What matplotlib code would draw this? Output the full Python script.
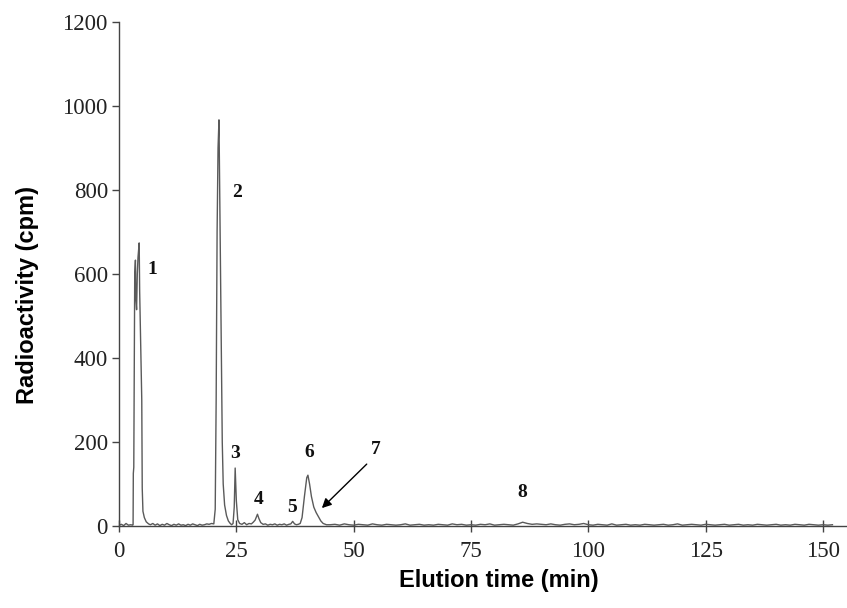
import numpy as np
import matplotlib
matplotlib.use("Agg")
import matplotlib.pyplot as plt

# ---------------------------------------------------------------------------
# Data (read off the radio-chromatogram)
# ---------------------------------------------------------------------------
# start of run + peak 1
t_start = [0.0, 0.5, 1.0, 1.5, 2.0, 2.5, 2.9,
           3.0, 3.05, 3.15, 3.35, 3.5, 3.6, 3.75, 3.9, 4.05, 4.3,
           4.4, 4.6, 4.85, 4.95, 5.1, 5.4, 5.8, 6.3]
v_start = [2, 4, 1, 6, 2, 3, 2,
           3, 125, 140, 600, 633, 540, 515, 600, 640, 674,
           560, 450, 300, 90, 35, 20, 10, 5]

# baseline before peak 2
t_base1 = [6.7, 7.2, 7.7, 8.2, 8.7, 9.2, 9.7, 10.2, 10.7, 11.2, 11.7, 12.2,
           12.7, 13.2, 13.7, 14.2, 14.7, 15.2, 15.7, 16.2, 16.7, 17.2, 17.7,
           18.2, 18.7, 19.2, 19.7]
v_base1 = [3, 6, 2, 5, 1, 4, 2, 6, 3, 1, 4, 2,
           5, 2, 3, 1, 4, 2, 5, 3, 1, 4, 2,
           3, 5, 4, 6]

# peaks 2 and 3
t_mid = [20.2, 20.5, 20.7, 20.9, 21.1, 21.3, 21.45, 21.6, 21.8, 22.0, 22.2,
         22.5, 22.9, 23.3, 23.7, 24.0, 24.3, 24.55, 24.75, 25.0, 25.3, 25.7]
v_mid = [5, 40, 300, 700, 900, 967, 800, 620, 400, 200, 100,
         50, 25, 12, 6, 3, 6, 45, 138, 60, 15, 6]

# peaks 4 and 5
t_p45 = [26.2, 26.7, 27.2, 27.7, 28.2, 28.6, 29.0, 29.5, 29.8, 30.2, 30.7,
         31.2, 31.7, 32.2, 32.7, 33.2, 33.7, 34.2, 34.7, 35.2, 35.7, 36.2,
         36.6, 37.0, 37.4, 37.8, 38.2]
v_p45 = [4, 8, 3, 6, 5, 9, 14, 28, 18, 8, 4,
         5, 2, 4, 3, 5, 2, 4, 3, 5, 2, 4,
         5, 11, 5, 3, 4]

# peak 6 with shoulder 7
t_p67 = [38.6, 39.0, 39.5, 40.0, 40.25, 40.6, 41.0, 41.5, 42.0, 42.5, 43.0,
         43.5, 44.2]
v_p67 = [6, 20, 70, 115, 121, 100, 70, 45, 32, 22, 12,
         6, 3]

# long tail with small peak 8 (~86 min)
t_tail = np.arange(45, 153)
v_tail = [3, 4, 2, 5, 3, 2, 4, 3, 2, 5,
          3, 2, 4, 3, 2, 3, 5, 2, 3, 4,
          2, 3, 2, 4, 3, 2, 5, 3, 4, 2,
          3, 2, 4, 3, 5, 2, 3, 4, 3, 2,
          5, 9, 6, 4, 5, 4, 3, 5, 3, 2,
          4, 5, 3, 4, 6, 3, 2, 4, 3, 2,
          5, 2, 3, 4, 2, 3, 2, 4, 3, 2,
          3, 4, 2, 3, 5, 2, 3, 4, 3, 2,
          4, 3, 2, 3, 4, 2, 3, 4, 2, 3,
          2, 4, 3, 2, 3, 4, 2, 3, 2, 4,
          3, 2, 4, 3, 2, 3, 2, 3]

time = np.concatenate([t_start, t_base1, t_mid, t_p45, t_p67, t_tail])
cpm = np.concatenate([v_start, v_base1, v_mid, v_p45, v_p67, v_tail])

peak_labels = ["1", "2", "3", "4", "5", "6", "7", "8"]
label_x = [7.2, 25.2, 24.8, 29.7, 36.8, 40.5, 54.6, 86.0]
label_y = [610, 795, 172, 62, 43, 175, 182, 80]

x_ticks = [0, 25, 50, 75, 100, 125, 150]
y_ticks = [0, 200, 400, 600, 800, 1000, 1200]

# ---------------------------------------------------------------------------
# Figure
# ---------------------------------------------------------------------------
fig = plt.figure(figsize=(8.47, 6.08), dpi=100)
ax = fig.add_axes([119 / 847, 82 / 608, 728 / 847, 504 / 608])

ax.plot(time, cpm, color="#5a5a5a", lw=1.0)

ax.set_xlim(0, 155.1)
ax.set_ylim(0, 1200)
ax.set_xticks(x_ticks)
ax.set_yticks(y_ticks)

for side in ("top", "right"):
    ax.spines[side].set_visible(False)
for side in ("left", "bottom"):
    ax.spines[side].set_color("#444444")
    ax.spines[side].set_linewidth(1.0)

ax.tick_params(axis="y", direction="out", length=5, width=1, color="#444444", pad=3)
ax.tick_params(axis="x", direction="inout", length=8, width=1, color="#444444", pad=7)
for lab in ax.get_xticklabels() + ax.get_yticklabels():
    lab.set_fontfamily("Liberation Serif")
    lab.set_fontsize(16.5)
    lab.set_color("#222222")

for txt, x, y in zip(peak_labels, label_x, label_y):
    ax.text(x, y, txt, fontfamily="Liberation Serif", fontsize=14,
            fontweight="bold", ha="center", va="center", color="#111111")

ax.annotate("", xy=(42.8, 38), xytext=(53.2, 152),
            arrowprops=dict(arrowstyle="-|>", color="black", lw=1.0,
                            mutation_scale=14))

ax.set_xlabel("Elution time (min)", fontfamily="Liberation Sans",
              fontsize=17, fontweight="bold")
ax.set_ylabel("Radioactivity (cpm)", fontfamily="Liberation Sans",
              fontsize=17, fontweight="bold")
ax.xaxis.set_label_coords(0.522, -0.085)
ax.yaxis.set_label_coords(-0.11, 0.458)

fig.savefig("out.png", dpi=100)
